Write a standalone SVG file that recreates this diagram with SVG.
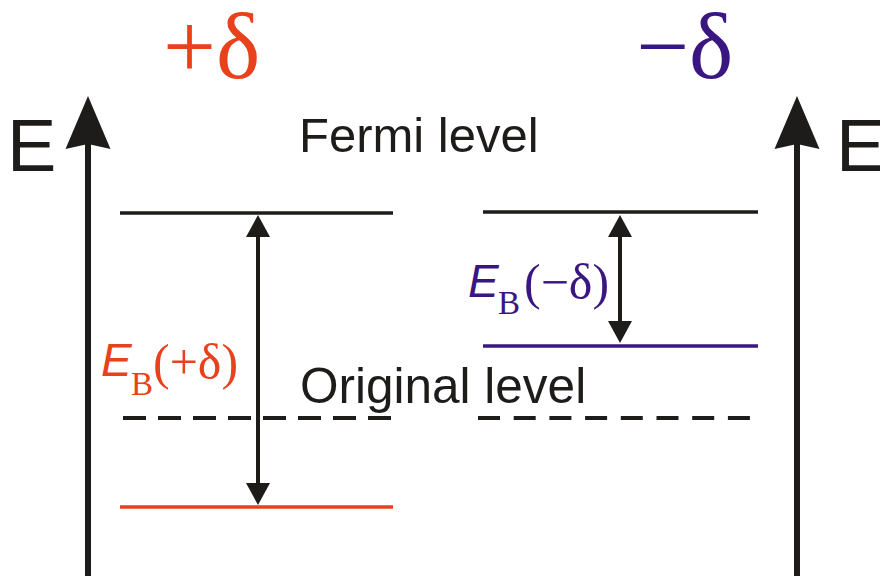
<svg xmlns="http://www.w3.org/2000/svg" width="880" height="576" viewBox="0 0 880 576">
  <style>
    .ink { stroke: #1e1c1a; fill: none; }
    .lvl { stroke-width: 3.5; fill: none; }
    .dash { stroke: #1e1c1a; stroke-width: 4; fill: none; }
    .sans { font-family: "Liberation Sans", Arial, sans-serif; fill: #1e1c1a; }
    .serif { font-family: "Liberation Serif", "Times New Roman", serif; }
    .red { fill: #e8421c; }
    .purple { fill: #3a1780; }
  </style>
  <defs>
    <marker id="axisHead" markerUnits="userSpaceOnUse" viewBox="-6 -24 56 48" refX="0" refY="0" markerWidth="56" markerHeight="48" orient="auto" overflow="visible">
      <path d="M48,0 L-5,-22.5 L0,0 L-5,22.5 Z" fill="#1e1c1a"/>
    </marker>
    <marker id="head" markerUnits="userSpaceOnUse" viewBox="0 -13 24 26" refX="0" refY="0" markerWidth="24" markerHeight="26" orient="auto-start-reverse" overflow="visible">
      <path d="M22,0 L0,-12 L0,12 Z" fill="#1e1c1a"/>
    </marker>
  </defs>
  <rect width="880" height="576" fill="#ffffff"/>

  <g id="axis-left">
    <line class="ink" x1="88" y1="576" x2="88" y2="144" stroke-width="6" marker-end="url(#axisHead)"/>
    <text class="sans" x="7" y="171" font-size="74">E</text>
  </g>
  <g id="axis-right">
    <line class="ink" x1="797" y1="576" x2="797" y2="144" stroke-width="6" marker-end="url(#axisHead)"/>
    <text class="sans" x="836" y="171" font-size="74">E</text>
  </g>

  <g id="title-plus">
    <text class="serif red" x="163" y="78" font-size="94">+δ</text>
  </g>
  <g id="title-minus">
    <text class="serif purple" x="636" y="78" font-size="94">−δ</text>
  </g>

  <g id="fermi-label">
    <text class="sans" x="299" y="152" font-size="49">Fermi level</text>
  </g>
  <g id="original-label">
    <text class="sans" x="300" y="403" font-size="49.5">Original level</text>
  </g>

  <g id="levels-left">
    <line class="lvl" x1="120" y1="213" x2="393" y2="213" stroke="#1e1c1a"/>
    <line class="dash" x1="123" y1="418" x2="391" y2="418" stroke-dasharray="23 12"/>
    <line class="lvl" x1="120" y1="507" x2="393" y2="507" stroke="#e8421c" stroke-width="4"/>
  </g>
  <g id="levels-right">
    <line class="lvl" x1="483" y1="212" x2="758" y2="212" stroke="#1e1c1a"/>
    <line class="dash" x1="478" y1="418" x2="750" y2="418" stroke-dasharray="22 13.7"/>
    <line class="lvl" x1="483" y1="346" x2="758" y2="346" stroke="#3a1780" stroke-width="4"/>
  </g>

  <g id="connectors">
    <line class="ink" x1="258" y1="237" x2="258" y2="483" stroke-width="4" marker-start="url(#head)" marker-end="url(#head)"/>
    <line class="ink" x1="620" y1="237" x2="620" y2="321" stroke-width="4" marker-start="url(#head)" marker-end="url(#head)"/>
  </g>

  <g id="label-EB-plus">
    <text class="red"><tspan class="sans red" x="101" y="376" font-size="46" font-style="italic">E</tspan><tspan class="serif red" x="131" y="395" font-size="33">B</tspan><tspan class="serif red" x="153" y="379" font-size="50">(+δ)</tspan></text>
  </g>
  <g id="label-EB-minus">
    <text class="purple"><tspan class="sans purple" x="468" y="297" font-size="46" font-style="italic">E</tspan><tspan class="serif purple" x="498" y="314" font-size="33">B</tspan><tspan class="serif purple" x="524" y="299" font-size="50">(−δ)</tspan></text>
  </g>
</svg>
